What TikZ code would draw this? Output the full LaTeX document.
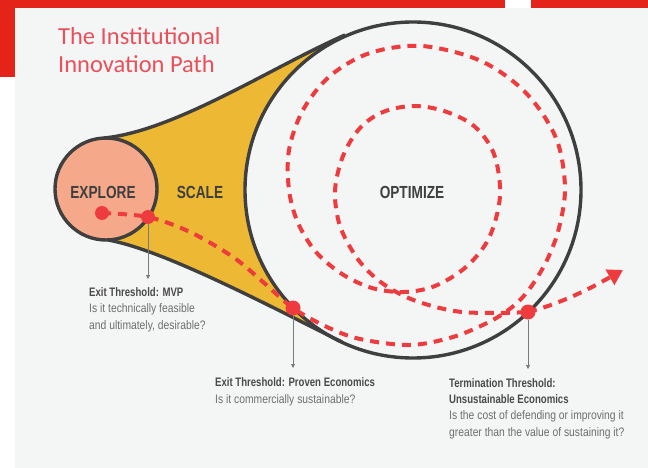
\documentclass[tikz,border=0pt]{standalone}
\usepackage{fontspec}
\usetikzlibrary{arrows.meta}
\newfontfamily\condfont{Liberation Sans}[FakeStretch=0.84,BoldFeatures={FakeStretch=0.78}]
\newfontfamily\titlefont{Carlito}
\definecolor{framered}{HTML}{E42419}
\definecolor{panel}{HTML}{F4F5F5}
\definecolor{scaleyellow}{HTML}{EDB833}
\definecolor{salmon}{HTML}{F6A98A}
\definecolor{outline}{HTML}{3F3F3F}
\definecolor{pathred}{HTML}{EE3B3E}
\definecolor{titlered}{HTML}{E9505C}
\definecolor{labeldark}{HTML}{4A4A4A}
\definecolor{labelgray}{HTML}{6E6E6E}
\definecolor{tickgray}{HTML}{7A7A7A}
\begin{document}
\begin{tikzpicture}[x=1pt,y=-1pt,
  outl/.style={draw=outline,line width=3.4pt},
  stagecircle/.style={circle,outl,inner sep=0pt},
  stagetext/.style={font=\condfont\bfseries\fontsize{17.5}{20}\selectfont,text=outline,inner sep=0pt},
  redpath/.style={draw=pathred,line width=4pt,dash pattern=on 9pt off 7pt},
  reddot/.style={circle,fill=pathred,inner sep=0pt,minimum size=14pt},
  tickline/.style={draw=tickgray,line width=0.8pt,-{Triangle[length=4pt,width=4pt]}},
  lbl/.style={anchor=base west,inner sep=0pt,align=left,font=\condfont\fontsize{12.3}{16.3}\selectfont,text=labelgray},
  ttl/.style={anchor=base west,inner sep=0pt,align=left,font=\titlefont\fontsize{24.5}{28}\selectfont,text=titlered}]
\useasboundingbox (0,0) rectangle (648,468);
% frame and panel
\fill[white] (0,0) rectangle (648,468);
\fill[framered] (0,0) rectangle (505,8);
\fill[framered] (531,0) rectangle (648,8);
\fill[framered] (0,0) rectangle (15,77);
\fill[panel] (15,8) rectangle (648,468);
% title (anchor = baseline of last line)
\node[ttl] (title) at (58,73) {The Institutional\\Innovation Path};
% scale region
\coordinate (u0) at (104,138);
\coordinate (u3) at (345,35);
\coordinate (l0) at (108,240);
\coordinate (l3) at (342,342);
\fill[scaleyellow] (u0) .. controls (175,131) and (272,67) .. (u3) -- (l3)
   .. controls (279,311) and (165,250) .. (l0) -- cycle;
\node[stagecircle,fill=panel,minimum size=336pt] (optimize) at (413,190) {};
\node[stagecircle,fill=salmon,minimum size=102pt] (explore) at (106,189) {};
\draw[outl] (u0) .. controls (175,131) and (272,67) .. (u3);
\draw[outl] (l0) .. controls (165,250) and (279,311) .. (l3);
% stage names
\node[stagetext] (tExplore) at (103,192) {EXPLORE};
\node[stagetext] (tScale) at (200,192) {SCALE};
\node[stagetext] (tOptimize) at (412,192) {OPTIMIZE};
% dots
\coordinate (A) at (102,213);
\coordinate (B) at (148,217);
\coordinate (C) at (293,308);
\coordinate (D) at (528,312);
\coordinate (E) at (623,270);
% spiral path
\draw[redpath] plot[smooth,tension=0.55] coordinates {
 (A) (B) (190,232) (233,257) (263,282) (C) (327,327) (360,339) (410,345)
 (453,337) (487,323) (507,311) (522,298) (535,281) (548,258) (559,228)
 (565,187) (556,138) (526,93) (481,61) (422,46) (370,53) (330,76)
 (303,110) (289,150) (289,190) (298,223) (316,252) (342,274) (372,288)
 (404,292) (435,286) (466,267) (489,238) (500,196) (494,154) (474,126)
 (444,111) (413,106) (383,112) (360,128) (343,156) (335,191) (340,226)
 (357,258) (378,280) (404,296) (432,306) (462,312) (500,313) (D)};
\draw[redpath,-{Triangle[length=15pt,width=17pt]}] plot[smooth,tension=0.5] coordinates {
 (D) (548,306) (571,297) (594,286) (E)};
\node[reddot] (dA) at (A) {};
\node[reddot] (dB) at (B) {};
\node[reddot,minimum size=15pt] (dC) at (C) {};
\node[reddot,minimum size=15pt] (dD) at (D) {};
% threshold ticks
\coordinate (tB) at (148,279);
\coordinate (tC) at (293,368);
\coordinate (tD) at (528,369);
\draw[tickline] (dB) -- (tB);
\draw[tickline] (dC) -- (tC);
\draw[tickline] (dD) -- (tD);
% labels (anchor = baseline of last line)
\node[lbl] (mvp) at (89,329) {{\bfseries\color{labeldark}Exit Threshold: MVP}\\Is it technically feasible\\and ultimately, desirable?};
\node[lbl] (proven) at (215,403) {{\bfseries\color{labeldark}Exit Threshold: Proven Economics}\\Is it commercially sustainable?};
\node[lbl] (term) at (449,436) {{\bfseries\color{labeldark}Termination Threshold:}\\{\bfseries\color{labeldark}Unsustainable Economics}\\Is the cost of defending or improving it\\greater than the value of sustaining it?};
\end{tikzpicture}
\end{document}
